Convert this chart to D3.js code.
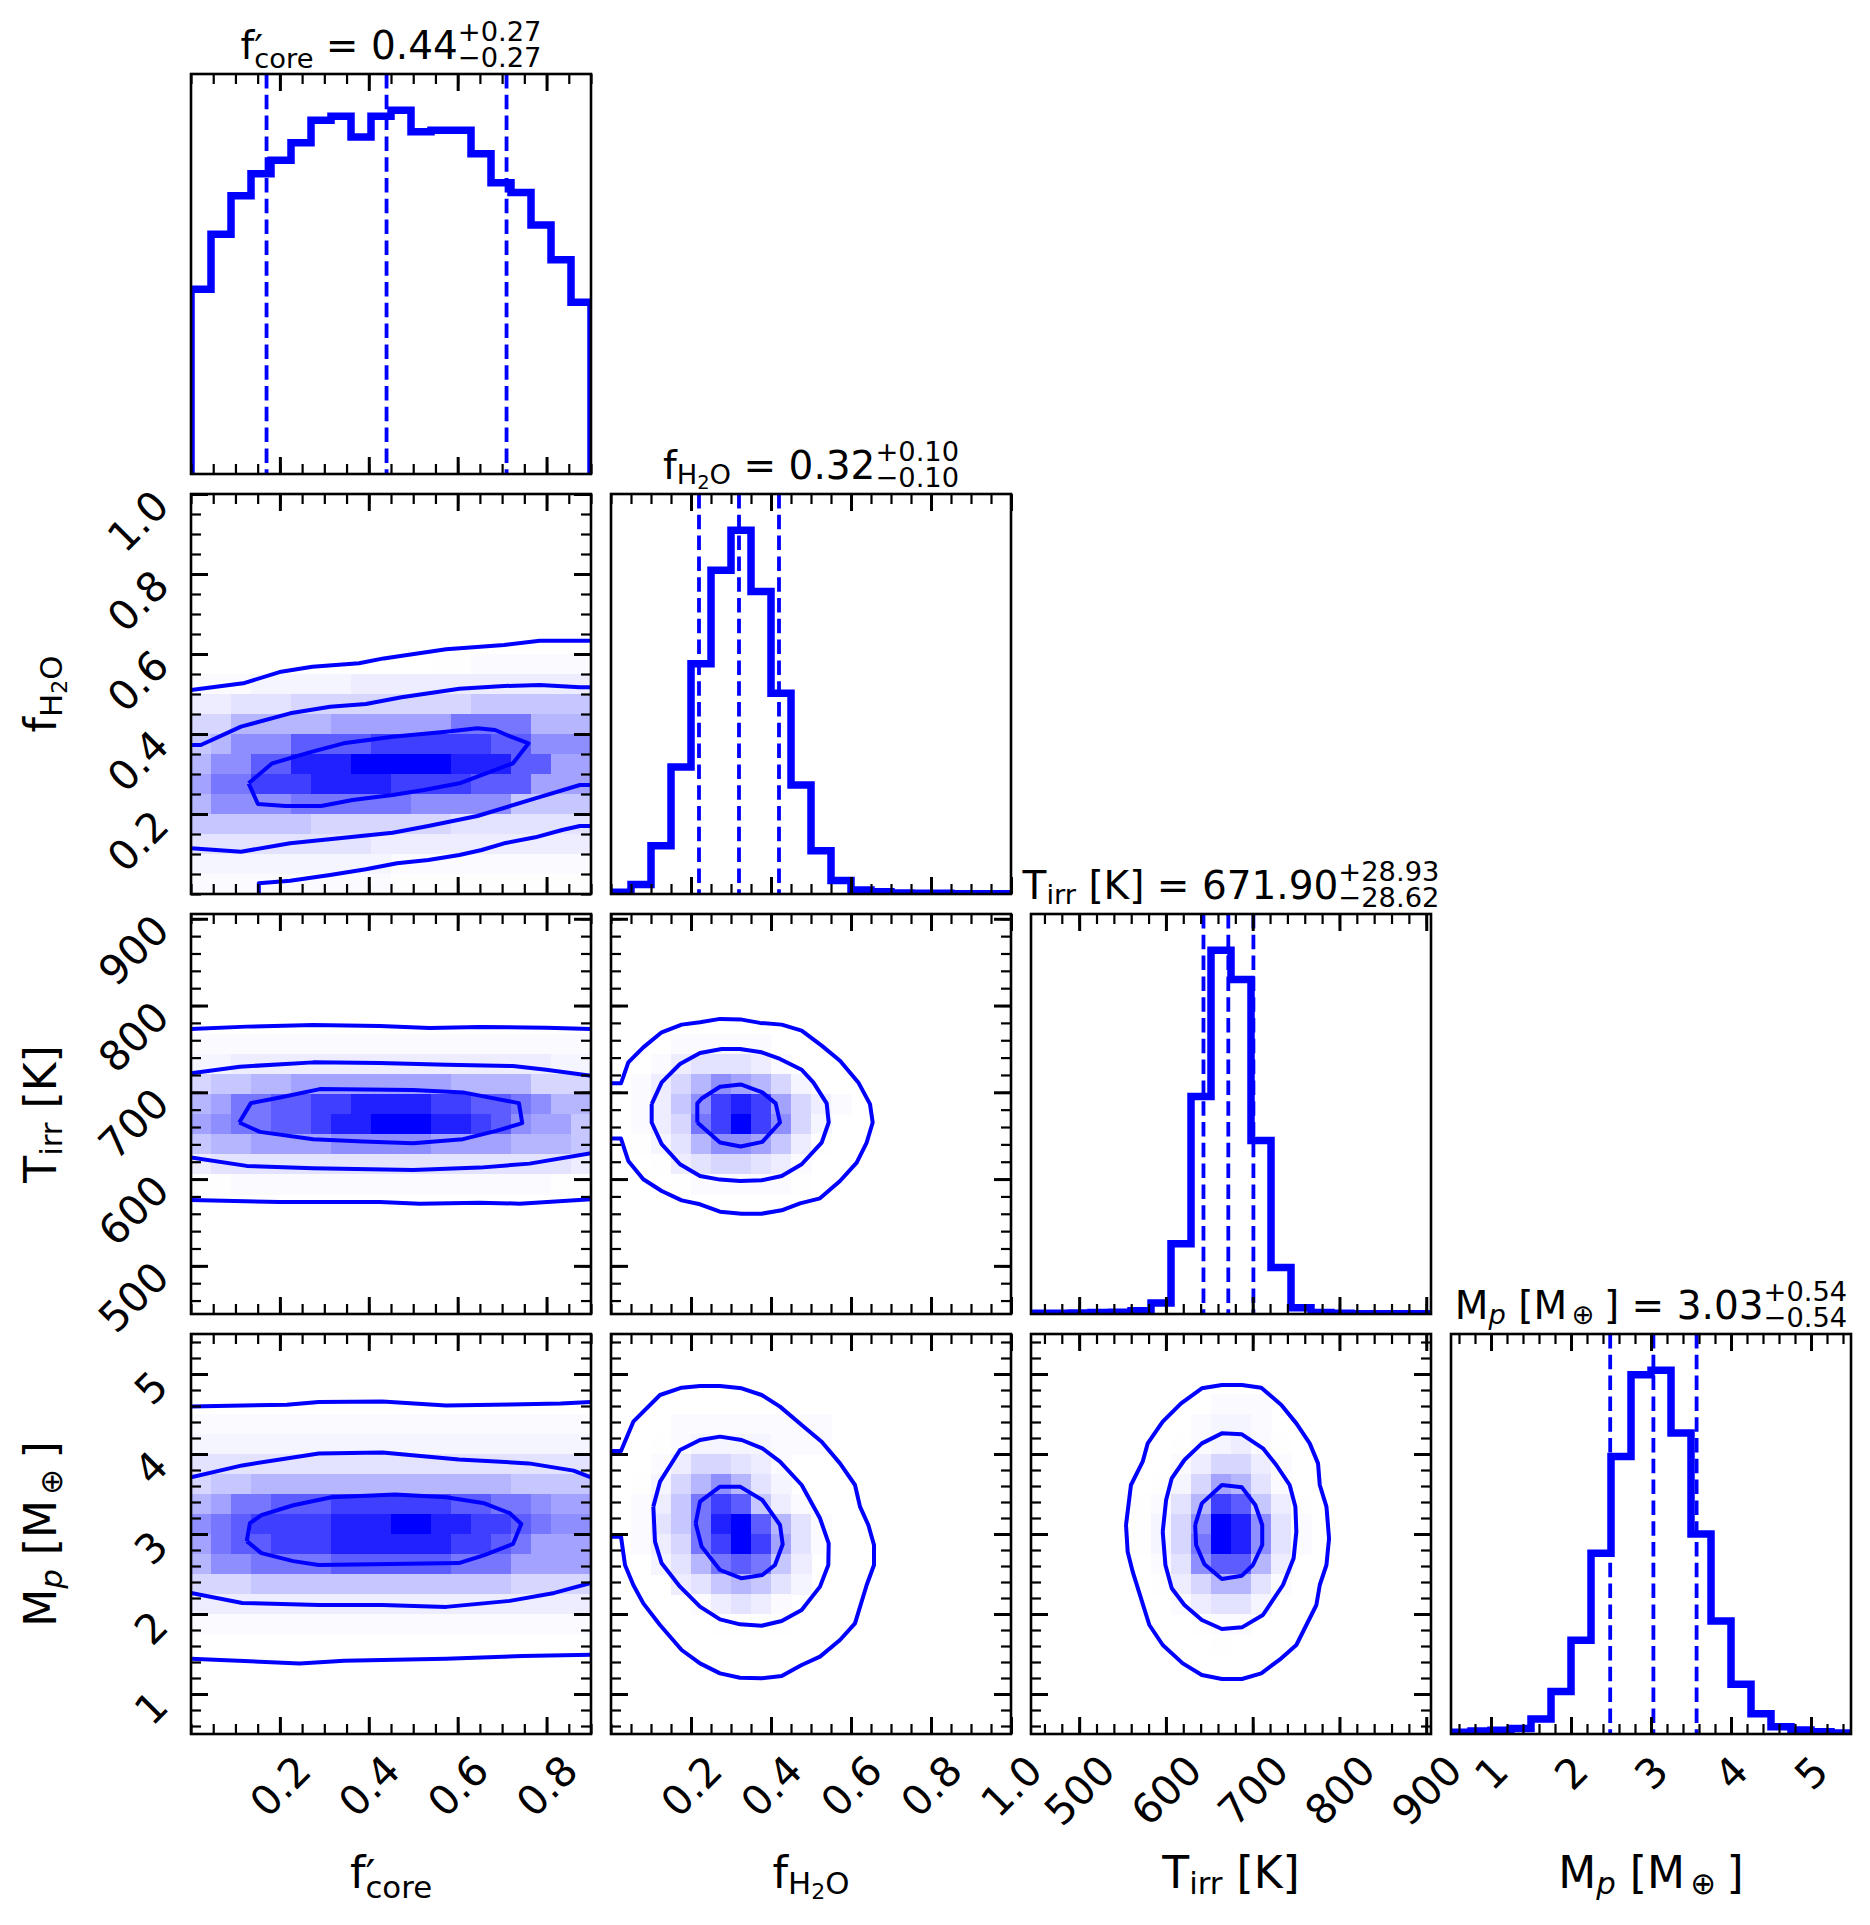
<!DOCTYPE html>
<html>
<head>
<meta charset="utf-8">
<script src="https://cdn.jsdelivr.net/npm/d3@7"></script>
<style>
  body { margin: 0; background: #fff; }
  svg text { font-family: "DejaVu Sans", sans-serif; fill: #000; white-space: pre; }
</style>
</head>
<body>
<svg id="chart" width="1870" height="1925"></svg>
<script>
// ---- parameters (order: f'core, fH2O, Tirr, Mp) ----
var ranges = [[0, 0.9], [0, 1.0], [444.5, 905.5], [0.5, 5.5]];
var majorTicks = [[0.2, 0.4, 0.6, 0.8], [0.2, 0.4, 0.6, 0.8, 1.0], [500, 600, 700, 800, 900], [1, 2, 3, 4, 5]];
var tickLabels = [["0.2", "0.4", "0.6", "0.8"], ["0.2", "0.4", "0.6", "0.8", "1.0"],
                  ["500", "600", "700", "800", "900"], ["1", "2", "3", "4", "5"]];
var minorSteps = [0.05, 0.05, 20, 0.2];

// label pieces: [text, role]
var labelTokens = [
  [["f", "main"], ["′|core", "stack"]],
  [["f", "main"], ["H", "sub"], ["2", "sub2"], ["O", "sub"]],
  [["T", "main"], ["irr", "sub"], [" [K]", "main"]],
  [["M", "main"], ["p", "subit"], [" [M", "main"], ["⊕", "subop"], ["]", "main"]]
];

// summary numbers for the titles
var medians = [0.44, 0.32, 671.90, 3.03];
var errUp   = [0.27, 0.10, 28.93, 0.54];
var errDown = [0.27, 0.10, 28.62, 0.54];
var quantiles = [[0.17, 0.44, 0.71], [0.22, 0.32, 0.42], [643.28, 671.90, 700.83], [2.49, 3.03, 3.57]];

// 1D histograms (20 bins across each range, relative counts)
var histFcore = [50.8, 65.9, 76.5, 82.6, 86.3, 91.1, 97.3, 98.4, 92.7, 98.4, 100, 94.1, 94.5, 94.5, 88.1, 80.1, 77.4, 68.5, 58.9, 47.2];
var histFh2o  = [0.5, 2.6, 13.3, 34.9, 63.3, 89.0, 100, 83.2, 55.2, 30.0, 11.9, 3.7, 1.1, 0.6, 0.3, 0.2, 0.2, 0.1, 0.1, 0.1];
var histTirr  = [0.2, 0.2, 0.3, 0.4, 0.5, 0.9, 3.0, 19.3, 59.8, 100, 92.0, 47.7, 12.8, 1.7, 0.4, 0.2, 0.1, 0.1, 0.1, 0.1];
var histMp    = [0.5, 0.8, 1.0, 1.5, 4.1, 11.7, 25.8, 49.7, 76.3, 98.8, 100, 82.8, 55.0, 31.1, 13.7, 5.6, 2.0, 1.1, 0.6, 0.3];
var hists = [histFcore, histFh2o, histTirr, histMp];

// 2D density, 20x20 cells, top row = highest y; hex level 0..f
var densFh2oFcore = [
  "00000000000000000000", "00000000000000000000", "00000000000000000000", "00000000000000000000",
  "00000000000000000000", "00000000000000000000", "00000000000000000000", "00000000000000000000",
  "00000000000011222222", "22233333444444444444", "44555666666666777777", "6688888999999bbbb888",
  "78aaaccccddddddccaaa", "8aacceeefffffeeecc99", "9bbdddeeeeddddccc999", "8aaaabbbbbbaaaaa7777",
  "77777766666665555555", "55555555544444444444", "33333333332222222222", "22222222221111111111"
];
var densTirrFcore = [
  "00000000000000000000", "00000000000000000000", "00000000000000000000", "00000000000000000000",
  "00000000000000000000", "00000000000000000000", "22222222222222222222", "33444444444444444433",
  "67788999999998888666", "89bbccddeeeeddccba88", "9abbccdeefffeedca997", "7889999aaaaa99998887",
  "45555555555555555554", "11222222222222222211", "00000000000000000000", "00000000000000000000",
  "00000000000000000000", "00000000000000000000", "00000000000000000000", "00000000000000000000"
];
var densTirrFh2o = [
  "00000000000000000000", "00000000000000000000", "00000000000000000000", "00000000000000000000",
  "00000000000000000000", "00000000000000000000", "00022222000000000000", "00245554200000000000",
  "02468a98630000000000", "0247aded964200000000", "0246bdfda63000000000", "01358aa9741000000000",
  "00145665420000000000", "00012222210000000000", "00000000000000000000", "00000000000000000000",
  "00000000000000000000", "00000000000000000000", "00000000000000000000", "00000000000000000000"
];
var densMpFcore = [
  "00000000000000000000", "00000000000000000000", "00000000000000000000", "00000000000000000000",
  "22222222222222222222", "33333333333333333333", "55555555555555555555", "67788888888888887777",
  "89bbcccddddddccbba99", "abcddddeeeffeeddcbaa", "9bccdddeeeeeeddcb999", "8aabbbbccccccbbb9999",
  "66677777777777776666", "44444444444444444444", "22222222222222222222", "00000000000000000000",
  "00000000000000000000", "00000000000000000000", "00000000000000000000", "00000000000000000000"
];
var densMpFh2o = [
  "00000000000000000000", "00000000000000000000", "00000000000000000000", "00000000000000000000",
  "00022222222000000000", "00123333222000000000", "00246654200000000000", "01368a85300000000000",
  "0247bdc7420000000000", "0257befc852000000000", "0246bdfd952000000000", "00358bcb740000000000",
  "00045787530000000000", "00002454200000000000", "00000111100000000000", "00000000000000000000",
  "00000000000000000000", "00000000000000000000", "00000000000000000000", "00000000000000000000"
];
var densMpTirr = [
  "00000000000000000000", "00000000000000000000", "00000000000000000000", "00000000022200000000",
  "00000000233200000000", "00000001234210000000", "00000002466420000000", "00000013698520000000",
  "000001258dc741000000", "00000136afea52000000", "00000136bfea52000000", "00000025acc840000000",
  "00000014688520000000", "00000002455300000000", "00000000122000000000", "00000000010000000000",
  "00000000000000000000", "00000000000000000000", "00000000000000000000", "00000000000000000000"
];

// contour lines in data coordinates [x, y]
var contFh2oFcore = [
  [[0,0.51],[0.1175,0.5267],[0.2028,0.5558],[0.273,0.568],[0.378,0.5767],[0.4335,0.589],[0.574,0.6117],[0.7045,0.6225],[0.7847,0.633],[0.9,0.633]],
  [[0.1526,0],[0.1526,0.0267],[0.223,0.0333],[0.313,0.0475],[0.3935,0.0617],[0.4636,0.0767],[0.534,0.085],[0.604,0.0975],[0.654,0.11],[0.7045,0.1267],[0.7746,0.1417],[0.835,0.16],[0.875,0.17],[0.9,0.17]],
  [[0,0.3725],[0.0222,0.3725],[0.1125,0.4183],[0.223,0.4517],[0.313,0.4683],[0.3935,0.475],[0.4737,0.4917],[0.604,0.5133],[0.7045,0.52],[0.7847,0.5225],[0.875,0.5167],[0.9,0.5167]],
  [[0,0.1142],[0.1125,0.1058],[0.223,0.1267],[0.3333,0.1392],[0.4537,0.1533],[0.534,0.17],[0.6443,0.195],[0.7746,0.2392],[0.875,0.2725],[0.9,0.2725]],
  [[0.1296,0.2767],[0.1828,0.3267],[0.273,0.3558],[0.3433,0.3767],[0.4537,0.3933],[0.574,0.4058],[0.6443,0.4142],[0.6843,0.41],[0.7195,0.3933],[0.7596,0.3767],[0.7244,0.3267],[0.604,0.2767],[0.5238,0.26],[0.4537,0.2475],[0.3633,0.235],[0.293,0.22],[0.2128,0.22],[0.1506,0.225],[0.1296,0.2767]]
];
var contTirrFcore = [
  [[0,773],[0.1251,775.7],[0.2749,777.6],[0.4247,776.5],[0.537,774.2],[0.6494,775.3],[0.7993,774.5],[0.9,773]],
  [[0,721.8],[0.1101,729.5],[0.2749,734.5],[0.4247,733.7],[0.5746,731.8],[0.7243,730.3],[0.7993,726],[0.9,719.1]],
  [[0,624.8],[0.1251,615.2],[0.2749,612.5],[0.4996,610.6],[0.6494,613.2],[0.7618,617.8],[0.9,629.8]],
  [[0,575.9],[0.2,573.6],[0.4247,573.6],[0.5146,571.7],[0.6494,572.8],[0.7393,571.7],[0.9,576.7]],
  [[0.1086,665.2],[0.1348,687.5],[0.2,694.1],[0.2899,703.7],[0.4996,702.6],[0.612,699.9],[0.7378,687.5],[0.7453,664.4],[0.6869,655.6],[0.612,646],[0.4996,641.3],[0.3873,643.3],[0.2749,646],[0.1551,654.4],[0.1086,665.2]]
];
var contTirrFh2o = [
  [[0.2158,665.2],[0.2158,687.2],[0.2267,692.9],[0.2725,706.4],[0.3242,709.1],[0.3783,699.9],[0.4117,687.2],[0.4225,665.2],[0.3783,642.9],[0.3242,637.5],[0.2725,642.1],[0.2158,665.2]],
  [[0.1017,686.4],[0.1267,711.4],[0.1725,732.6],[0.2225,745.3],[0.2767,749.9],[0.3225,749.9],[0.3767,746.1],[0.4225,738.4],[0.4767,726],[0.5058,711.4],[0.5392,687.2],[0.5442,665.2],[0.5267,642.1],[0.4767,617.1],[0.4267,603.6],[0.3767,598.6],[0.3225,597.8],[0.2725,599.4],[0.2225,603.6],[0.1725,617.1],[0.1267,640.2],[0.1017,665.2],[0.1017,686.4]],
  [[0,710.3],[0.025,710.3],[0.0433,734.5],[0.0808,751.8],[0.1267,769.2],[0.1767,778],[0.2225,780.7],[0.2725,784.6],[0.3267,783.8],[0.3725,780],[0.4267,778],[0.4767,771.1],[0.5267,753.8],[0.5725,736.4],[0.6183,711.4],[0.6475,686.4],[0.6542,665.2],[0.6392,642.1],[0.6142,619],[0.5725,597.8],[0.5225,577.8],[0.4725,572],[0.4267,564],[0.3767,560.1],[0.3267,560.1],[0.2725,562.4],[0.2225,570.9],[0.1767,575.5],[0.1267,586.3],[0.0808,599.8],[0.0433,620.9],[0.025,646.7],[0,646.7]]
];
var contMpFcore = [
  [[0,4.595],[0.2157,4.615],[0.2874,4.65],[0.4307,4.655],[0.574,4.605],[0.7173,4.62],[0.832,4.63],[0.9,4.65]],
  [[0,3.7075],[0.1154,3.8575],[0.2874,4.0075],[0.4307,4.02],[0.6027,3.9325],[0.7603,3.8825],[0.8607,3.7925],[0.9,3.7075]],
  [[0,2.2635],[0.1154,2.1385],[0.2874,2.114],[0.4307,2.114],[0.574,2.089],[0.7173,2.164],[0.8175,2.2635],[0.9,2.3875]],
  [[0,1.441],[0.2443,1.381],[0.3447,1.416],[0.574,1.441],[0.746,1.476],[0.9,1.491]],
  [[0.1254,2.911],[0.1326,3.135],[0.1584,3.235],[0.2301,3.359],[0.316,3.459],[0.4593,3.494],[0.574,3.459],[0.66,3.384],[0.7173,3.26],[0.7431,3.125],[0.7245,2.876],[0.66,2.736],[0.6027,2.636],[0.4881,2.6275],[0.2874,2.6125],[0.2301,2.661],[0.1584,2.761],[0.1254,2.911]]
];
var contMpFh2o = [
  [[0.2117,3.133],[0.2225,3.404],[0.2725,3.592],[0.3225,3.592],[0.3783,3.425],[0.4225,3.1125],[0.4292,2.871],[0.41,2.6125],[0.3783,2.4875],[0.3267,2.446],[0.2725,2.55],[0.2267,2.842],[0.2117,3.133]],
  [[0.1058,3.342],[0.1225,3.654],[0.1725,4.05],[0.2225,4.175],[0.2725,4.217],[0.3267,4.175],[0.3783,4.071],[0.4225,3.904],[0.4767,3.6125],[0.5225,3.196],[0.5442,2.883],[0.5433,2.6125],[0.5225,2.342],[0.4767,2.05],[0.4267,1.9125],[0.3767,1.854],[0.3225,1.871],[0.2725,1.933],[0.2225,2.092],[0.1725,2.342],[0.1267,2.633],[0.11,2.904],[0.1058,3.342]],
  [[0,4.0375],[0.025,4.0375],[0.0558,4.404],[0.1225,4.7375],[0.1767,4.829],[0.2225,4.85],[0.2725,4.85],[0.3267,4.821],[0.3767,4.7375],[0.4225,4.592],[0.4767,4.3625],[0.5267,4.154],[0.5725,3.883],[0.61,3.6125],[0.6225,3.342],[0.6433,3.1125],[0.6575,2.8625],[0.6575,2.6125],[0.6392,2.3625],[0.61,1.883],[0.5725,1.675],[0.5225,1.467],[0.4767,1.3625],[0.4267,1.225],[0.3767,1.196],[0.3225,1.204],[0.2725,1.258],[0.2225,1.383],[0.1767,1.55],[0.1225,1.8625],[0.0808,2.133],[0.0558,2.3625],[0.035,2.6125],[0.025,2.967],[0,2.967]]
];
var contMpTirr = [
  [[633.7,3.1125],[641.4,3.383],[664.5,3.6125],[687.6,3.583],[703,3.3625],[711,3.1125],[711,2.8625],[700.3,2.6125],[687.6,2.479],[664.5,2.4375],[644.4,2.621],[634.8,2.8625],[633.7,3.1125]],
  [[596.3,3.029],[600.2,3.425],[606.7,3.696],[621.3,3.925],[641.4,4.133],[664.5,4.258],[687.6,4.246],[711.8,4.071],[727.2,3.8625],[742.6,3.6125],[749.2,3.342],[750.3,3.029],[747.2,2.696],[734.9,2.3625],[711.8,1.9875],[687.6,1.833],[664.5,1.8125],[641.4,1.925],[621.3,2.1125],[606.7,2.321],[599.4,2.6125],[596.3,3.029]],
  [[554,3.1125],[559.7,3.6125],[573.2,3.904],[579,4.133],[596.3,4.404],[617.5,4.633],[641.4,4.821],[664.5,4.8625],[687.6,4.8625],[709.9,4.829],[733,4.6125],[750.3,4.383],[765.7,4.133],[775.3,3.883],[777.3,3.6125],[785,3.342],[788,2.946],[785,2.6125],[777.3,2.3625],[773.4,2.1125],[750.3,1.6125],[733,1.446],[709.9,1.258],[687.6,1.1875],[664.5,1.1875],[641.4,1.2375],[619.4,1.383],[596.3,1.6125],[580.9,1.8625],[571.3,2.196],[561.7,2.529],[555.9,2.779],[554,3.1125]]
];

// which lower-triangle panel gets which grid / contours: [row, col]
var pairs = [
  {r: 1, c: 0, dens: densFh2oFcore, cont: contFh2oFcore},
  {r: 2, c: 0, dens: densTirrFcore, cont: contTirrFcore},
  {r: 2, c: 1, dens: densTirrFh2o, cont: contTirrFh2o},
  {r: 3, c: 0, dens: densMpFcore, cont: contMpFcore},
  {r: 3, c: 1, dens: densMpFh2o, cont: contMpFh2o},
  {r: 3, c: 2, dens: densMpTirr, cont: contMpTirr}
];

// ---- layout ----
var left0 = 191, top0 = 74, size = 400, step = 420;
var FS_TICK = 41, FS_TITLE = 39, FS_LABEL = 44;
var blue = "#0000ff";

var svg = d3.select("#chart");
svg.append("rect").attr("width", 1870).attr("height", 1925).attr("fill", "#fff");

var xs = ranges.map(function (r) { return d3.scaleLinear().domain(r).range([0, size]); });
var ys = ranges.map(function (r) { return d3.scaleLinear().domain(r).range([size, 0]); });
var cellColor = d3.interpolateRgb("#ffffff", blue);

function minorValues(i) {
  var lo = ranges[i][0], hi = ranges[i][1], st = minorSteps[i], out = [];
  for (var k = Math.ceil(lo / st - 1e-9); k * st <= hi + 1e-9; k++) out.push(+(k * st).toFixed(6));
  return out;
}

function panel(r, c) {
  var g = svg.append("g").attr("transform", "translate(" + (left0 + c * step) + "," + (top0 + r * step) + ")");
  var id = "clip" + r + c;
  g.append("clipPath").attr("id", id).append("rect").attr("width", size).attr("height", size);
  var body = g.append("g").attr("clip-path", "url(#" + id + ")");
  return {g: g, body: body};
}

function drawTicks(g, i, side) {
  var sc = (side == "top" || side == "bottom") ? xs[i] : ys[i];
  var gen = {top: d3.axisTop, bottom: d3.axisBottom, left: d3.axisLeft, right: d3.axisRight}[side];
  var tr = side == "bottom" ? "translate(0," + size + ")" : side == "right" ? "translate(" + size + ",0)" : null;
  [[minorValues(i), 10, 2.2], [majorTicks[i], 17, 3]].forEach(function (t) {
    var a = g.append("g").attr("transform", tr)
      .call(gen(sc).tickValues(t[0]).tickSize(-t[1]).tickFormat(""));
    a.select(".domain").remove();
    a.selectAll("text").remove();
    a.selectAll("line").attr("stroke", "#000").attr("stroke-width", t[2]);
  });
}

function frame(g) {
  g.append("rect").attr("width", size).attr("height", size)
    .attr("fill", "none").attr("stroke", "#000").attr("stroke-width", 2.6);
}

// mathtext-like label built from tokens
var roles = {
  main:  {k: 1,   dy: 0},
  sub:   {k: 0.7, dy: 0.13},
  sub2:  {k: 0.5, dy: 0.26},
  subit: {k: 0.7, dy: 0.13, it: true},
  subop: {k: 0.7, dy: 0.13, pre: 0.12, post: 0.24}
};
function buildMath(g, tokens, fs) {
  var x = 0;
  function put(txt, k, dy, it) {
    var t = g.append("text").attr("x", x).attr("y", dy * fs).attr("font-size", k * fs).text(txt);
    if (it) t.attr("font-style", "italic");
    return t.node().getComputedTextLength();
  }
  tokens.forEach(function (tok) {
    var txt = tok[0], role = tok[1];
    if (role == "stack" || role == "err") {
      var parts = txt.split("|");
      var w1 = role == "err" ? put(parts[0], 0.7, -0.45) : put(parts[0], 1.0, 0.1);
      var w2 = put(parts[1], 0.7, role == "err" ? 0.215 : 0.23);
      x += Math.max(w1, w2);
    } else {
      var s = roles[role];
      if (s.pre) x += s.pre * fs;
      x += put(txt, s.k, s.dy, s.it);
      if (s.post) x += s.post * fs;
    }
  });
  return x;
}
function centeredMath(transform, tokens, fs) {
  var outer = svg.append("g").attr("transform", transform);
  var inner = outer.append("g");
  var w = buildMath(inner, tokens, fs);
  inner.attr("transform", "translate(" + (-w / 2) + ",0)");
}

function rotTick(str, px, py, mode) {
  var g = svg.append("g");
  var t = g.append("text").attr("font-size", FS_TICK).attr("text-anchor", "middle")
    .attr("y", 0.365 * FS_TICK).text(str);
  var w = t.node().getComputedTextLength();
  var half = (0.95 * w + 0.73 * FS_TICK) / (2 * Math.SQRT2);
  var cx = mode == "x" ? px : px - 21 - half;
  var cy = mode == "x" ? py + 19 + half : py - 6 + half;
  g.attr("transform", "translate(" + cx + "," + cy + ") rotate(-45)");
}

var fmt = d3.format(".2f");

// ---- diagonal: 1D histograms ----
hists.forEach(function (h, i) {
  var p = panel(i, i);
  var lo = ranges[i][0], hi = ranges[i][1], w = (hi - lo) / h.length;
  var hx = xs[i];
  var hy = d3.scaleLinear().domain([0, 1.1 * d3.max(h)]).range([size, 0]);
  var pts = [[lo, 0]].concat(h.map(function (v, k) { return [lo + k * w, v]; }), [[hi, h[h.length - 1]], [hi, 0]]);
  p.body.append("path")
    .attr("d", d3.line().x(function (d) { return hx(d[0]); }).y(function (d) { return hy(d[1]); }).curve(d3.curveStepAfter)(pts))
    .attr("fill", "none").attr("stroke", blue).attr("stroke-width", 7.5).attr("stroke-linejoin", "miter");
  p.body.selectAll("line.q").data(quantiles[i]).enter().append("line")
    .attr("class", "q")
    .attr("x1", function (d) { return hx(d); }).attr("x2", function (d) { return hx(d); })
    .attr("y1", 0).attr("y2", size)
    .attr("stroke", blue).attr("stroke-width", 3.8).attr("stroke-dasharray", "14.5,6.3");
  drawTicks(p.g, i, "top");
  drawTicks(p.g, i, "bottom");
  frame(p.g);

  var toks = labelTokens[i].concat([[" = " + fmt(medians[i]), "main"], ["+" + fmt(errUp[i]) + "|−" + fmt(errDown[i]), "err"]]);
  centeredMath("translate(" + (left0 + i * step + size / 2) + "," + (top0 + i * step - 15) + ")", toks, FS_TITLE);
});

// ---- lower triangle: 2D densities with contours ----
pairs.forEach(function (pr) {
  var p = panel(pr.r, pr.c);
  var sx = xs[pr.c], sy = ys[pr.r];
  var xlo = ranges[pr.c][0], dx = (ranges[pr.c][1] - xlo) / 20;
  var yhi = ranges[pr.r][1], dy = (yhi - ranges[pr.r][0]) / 20;
  var cells = [];
  pr.dens.forEach(function (row, j) {
    row.split("").forEach(function (ch, k) {
      var v = parseInt(ch, 16);
      if (v > 0) cells.push({j: j, k: k, v: v});
    });
  });
  p.body.selectAll("rect.cell").data(cells).enter().append("rect")
    .attr("class", "cell")
    .attr("x", function (d) { return sx(xlo + d.k * dx); })
    .attr("y", function (d) { return sy(yhi - d.j * dy); })
    .attr("width", sx(xlo + dx) - sx(xlo) + 0.6)
    .attr("height", sy(yhi - dy) - sy(yhi) + 0.6)
    .attr("fill", function (d) { return cellColor(Math.pow(d.v / 15, 2)); })
    .attr("shape-rendering", "crispEdges");
  var line = d3.line().x(function (d) { return sx(d[0]); }).y(function (d) { return sy(d[1]); });
  p.body.selectAll("path.cont").data(pr.cont).enter().append("path")
    .attr("class", "cont").attr("d", line)
    .attr("fill", "none").attr("stroke", blue).attr("stroke-width", 4)
    .attr("stroke-linejoin", "round");
  drawTicks(p.g, pr.c, "top");
  drawTicks(p.g, pr.c, "bottom");
  drawTicks(p.g, pr.r, "left");
  drawTicks(p.g, pr.r, "right");
  frame(p.g);
});

// ---- tick labels ----
var axisY = top0 + 3 * step + size;
[0, 1, 2, 3].forEach(function (c) {
  majorTicks[c].forEach(function (v, n) {
    rotTick(tickLabels[c][n], left0 + c * step + xs[c](v), axisY, "x");
  });
});
[1, 2, 3].forEach(function (r) {
  majorTicks[r].forEach(function (v, n) {
    rotTick(tickLabels[r][n], left0, top0 + r * step + ys[r](v), "y");
  });
});

// ---- axis labels ----
[0, 1, 2, 3].forEach(function (c) {
  centeredMath("translate(" + (left0 + c * step + size / 2) + ",1888)", labelTokens[c], FS_LABEL);
});
[1, 2, 3].forEach(function (r) {
  centeredMath("translate(56," + (top0 + r * step + size / 2) + ") rotate(-90)", labelTokens[r], FS_LABEL);
});
</script>
</body>
</html>
